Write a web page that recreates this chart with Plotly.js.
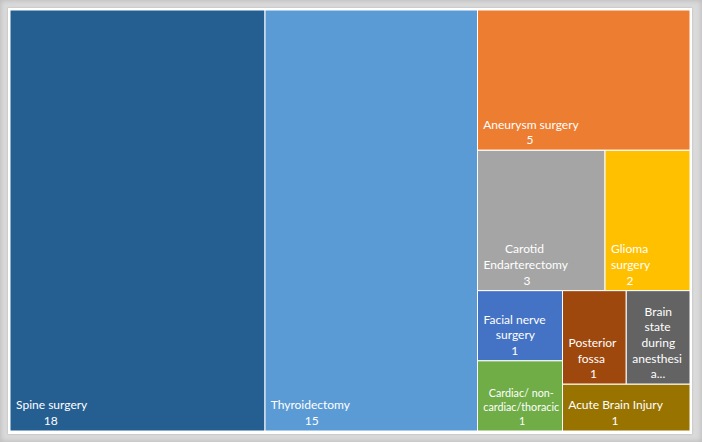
<!DOCTYPE html>
<html>
<head>
<meta charset="utf-8">
<script src="https://cdn.plot.ly/plotly-3.0.1.min.js"></script>
<style>
  html, body { margin: 0; padding: 0; background: #ffffff; }
  #frame {
    position: relative; width: 702px; height: 442px; overflow: hidden;
    background: #dadada;
    box-shadow: inset 0 0 5px 1px #bdbdbd;
  }
  #inner {
    position: absolute; left: 8px; top: 8px; width: 684px; height: 426px;
    background: #ffffff;
    box-shadow: 0 0 2px 0 #b0b0b0;
  }
  #chart { position: absolute; left: 0; top: 0; width: 702px; height: 442px; }
</style>
</head>
<body>
<div id="frame"><div id="inner"></div><div id="chart"></div></div>
<script>
// ---- data ----
const categories = ["Spine surgery", "Thyroidectomy", "Aneurysm surgery", "Carotid Endarterectomy",
  "Glioma surgery", "Facial nerve surgery", "Cardiac/ non-cardiac/thoracic", "Posterior fossa",
  "Brain state during anesthesia", "Acute Brain Injury"];
const counts = [18, 15, 5, 3, 2, 1, 1, 1, 1, 1];
// label text as wrapped inside each tile
const tileLines = [
  ["Spine surgery"], ["Thyroidectomy"], ["Aneurysm surgery"], ["Carotid", "Endarterectomy"],
  ["Glioma", "surgery"], ["Facial nerve", "surgery"], ["Cardiac/ non-", "cardiac/thoracic"],
  ["Posterior", "fossa"], ["Brain", "state", "during", "anesthesi", "a..."], ["Acute Brain Injury"]];
const showCount = [true, true, true, true, true, true, true, true, false, true];
// grouping used by the squarified layout
const groupNames = ["grpRight", "grpMid", "grpSmall"];
const groupParents = ["", "grpRight", "grpRight"];
const leafParent = ["", "", "grpRight", "grpMid", "grpMid", "grpSmall", "grpSmall", "grpSmall", "grpSmall", "grpSmall"];
const tileColors = ["#255E91", "#5B9BD5", "#ED7D31", "#A5A5A5", "#FFC000", "#4472C4", "#70AD47",
  "#9E480E", "#636363", "#997300"];

// ---- build ----
const FONT = "Lato";
const FSIZE = 12;
const cv = document.createElement("canvas").getContext("2d");
cv.font = FSIZE + "px " + FONT;
const nb = "\u00A0";
const nbW = cv.measureText(nb).width || FSIZE * 0.25;
function centerLines(lines) {
  const ws = lines.map(l => cv.measureText(l).width);
  const mx = Math.max(...ws);
  return lines.map((l, i) => nb + nb.repeat(Math.max(0, Math.round((mx - ws[i]) / 2 / nbW))) + l).join("<br>");
}

const ids = [], parents = [], labels = [], values = [], texts = [], colors = [];
const added = new Set();
function addGroup(g) {
  if (!g || added.has(g)) return;
  const gi = groupNames.indexOf(g);
  addGroup(groupParents[gi]);
  added.add(g);
  ids.push(g); parents.push(groupParents[gi]); labels.push(""); values.push(0); texts.push(""); colors.push("#ffffff");
}
categories.forEach((c, i) => {
  addGroup(leafParent[i]);
  const lines = tileLines[i].slice();
  if (showCount[i]) lines.push(String(counts[i]));
  ids.push(c); parents.push(leafParent[i]); labels.push(c); values.push(counts[i]);
  texts.push(centerLines(lines)); colors.push(tileColors[i]);
});

const trace = {
  type: "treemap",
  ids: ids, labels: labels, parents: parents, values: values,
  branchvalues: "remainder",
  text: texts,
  texttemplate: "%{text}",
  textposition: "bottom left",
  textfont: { family: FONT, size: FSIZE, color: "#ffffff" },
  marker: { colors: colors, line: { color: "#ffffff", width: 1 }, pad: { t: 0, l: 0, r: 0, b: 0 }, depthfade: false },
  tiling: { packing: "squarify", pad: 0 },
  pathbar: { visible: false },
  root: { color: "#ffffff" },
  sort: true,
  hoverinfo: "label+value"
};

Plotly.newPlot("chart", [trace], {
  width: 702, height: 442,
  margin: { l: 10, r: 12, t: 10, b: 11 },
  paper_bgcolor: "rgba(0,0,0,0)",
  showlegend: false
}, { displayModeBar: false, staticPlot: true });
</script>
</body>
</html>
